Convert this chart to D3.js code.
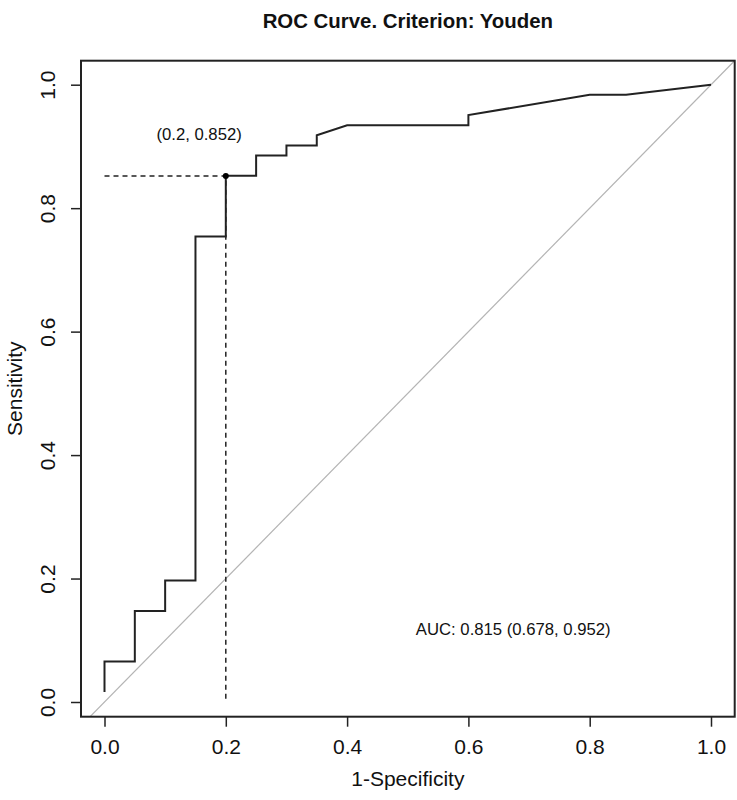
<!DOCTYPE html>
<html>
<head>
<meta charset="utf-8">
<script src="https://cdn.jsdelivr.net/npm/d3@7"></script>
<style>
  body { margin: 0; background: #fff; }
  text { font-family: "Liberation Sans", Arial, sans-serif; fill: #111; }
</style>
</head>
<body>
<svg width="737" height="800"></svg>
<script>
// ROC curve points (1-specificity, sensitivity)
const fpr = [0, 0, 0.05, 0.05, 0.1, 0.1, 0.15, 0.15, 0.2, 0.2, 0.25, 0.25, 0.3, 0.3, 0.35, 0.35, 0.4, 0.6, 0.6, 0.8, 0.86, 1];
const tpr = [0.0164, 0.0656, 0.0656, 0.1475, 0.1475, 0.1967, 0.1967, 0.7541, 0.7541, 0.8525, 0.8525, 0.8852, 0.8852, 0.9016, 0.9016, 0.918, 0.9344, 0.9344, 0.9508, 0.9836, 0.9836, 1];
const best = [0.2, 0.852];
const ticks = [0, 0.2, 0.4, 0.6, 0.8, 1];
const title = "ROC Curve. Criterion: Youden";
const bestLabel = "(0.2, 0.852)";
const aucLabel = "AUC: 0.815 (0.678, 0.952)";

const svg = d3.select("svg");
const box = { left: 81, right: 734.7, top: 60.7, bottom: 716.7 };

const xScale = d3.scaleLinear().domain([0, 1]).range([104.5, 711]);
const yScale = d3.scaleLinear().domain([0, 1]).range([702, 84.7]);

// title
svg.append("text")
  .text(title)
  .attr("x", (box.left + box.right) / 2)
  .attr("y", 28)
  .attr("text-anchor", "middle")
  .style("font-weight", "bold")
  .style("font-size", "20.4px");

// x axis
const xAxisG = svg.append("g")
  .attr("transform", `translate(0,${box.bottom})`)
  .call(d3.axisBottom(xScale).tickValues(ticks).tickFormat(d3.format(".1f")).tickSize(10).tickPadding(12));
xAxisG.select(".domain").remove();
xAxisG.selectAll(".tick line").attr("stroke", "#222").attr("stroke-width", 1.5);
xAxisG.selectAll(".tick text").style("font-size", "21px").attr("fill", "#111");

// y axis
const yAxisG = svg.append("g")
  .attr("transform", `translate(${box.left},0)`)
  .call(d3.axisLeft(yScale).tickValues(ticks).tickFormat(d3.format(".1f")).tickSize(10));
yAxisG.select(".domain").remove();
yAxisG.selectAll(".tick line").attr("stroke", "#222").attr("stroke-width", 1.5);
yAxisG.selectAll(".tick text")
  .style("font-size", "21px")
  .attr("fill", "#111")
  .attr("x", null)
  .attr("dy", null)
  .attr("text-anchor", "middle")
  .attr("transform", "translate(-26,0) rotate(-90)")
  .attr("y", 0)
  .attr("dominant-baseline", "auto");

// axis titles
svg.append("text")
  .text("1-Specificity")
  .attr("x", (box.left + box.right) / 2)
  .attr("y", 786)
  .attr("text-anchor", "middle")
  .style("font-size", "21px");

svg.append("text")
  .text("Sensitivity")
  .attr("transform", `translate(22,${(box.top + box.bottom) / 2}) rotate(-90)`)
  .attr("text-anchor", "middle")
  .style("font-size", "21px");

// clip to plot box
svg.append("clipPath").attr("id", "clip")
  .append("rect")
  .attr("x", box.left).attr("y", box.top)
  .attr("width", box.right - box.left).attr("height", box.bottom - box.top);

const plot = svg.append("g").attr("clip-path", "url(#clip)");

// diagonal reference line y = x
plot.append("line")
  .attr("x1", xScale(-0.1)).attr("y1", yScale(-0.1))
  .attr("x2", xScale(1.1)).attr("y2", yScale(1.1))
  .attr("stroke", "#b4b4b4")
  .attr("stroke-width", 1.2);

// dashed guides to the best threshold
plot.append("path")
  .attr("d", `M${xScale(0)},${yScale(best[1])}H${xScale(best[0])}V${yScale(0)}`)
  .attr("fill", "none")
  .attr("stroke", "#222")
  .attr("stroke-width", 1.5)
  .attr("stroke-dasharray", "5,4");

// ROC curve
const line = d3.line().x((d, i) => xScale(fpr[i])).y((d, i) => yScale(tpr[i]));
plot.append("path")
  .attr("d", line(fpr))
  .attr("fill", "none")
  .attr("stroke", "#222")
  .attr("stroke-width", 2);

plot.append("circle")
  .attr("cx", xScale(best[0]))
  .attr("cy", yScale(best[1]))
  .attr("r", 3)
  .attr("fill", "#000");

// labels
svg.append("text")
  .text(bestLabel)
  .attr("x", xScale(0.156))
  .attr("y", yScale(0.92))
  .attr("dy", "0.35em")
  .attr("text-anchor", "middle")
  .style("font-size", "16.7px");

svg.append("text")
  .text(aucLabel)
  .attr("x", xScale(0.674))
  .attr("y", yScale(0.118))
  .attr("dy", "0.35em")
  .attr("text-anchor", "middle")
  .style("font-size", "16.7px");

// plot box
svg.append("rect")
  .attr("x", box.left).attr("y", box.top)
  .attr("width", box.right - box.left).attr("height", box.bottom - box.top)
  .attr("fill", "none")
  .attr("stroke", "#222")
  .attr("stroke-width", 2);
</script>
</body>
</html>
